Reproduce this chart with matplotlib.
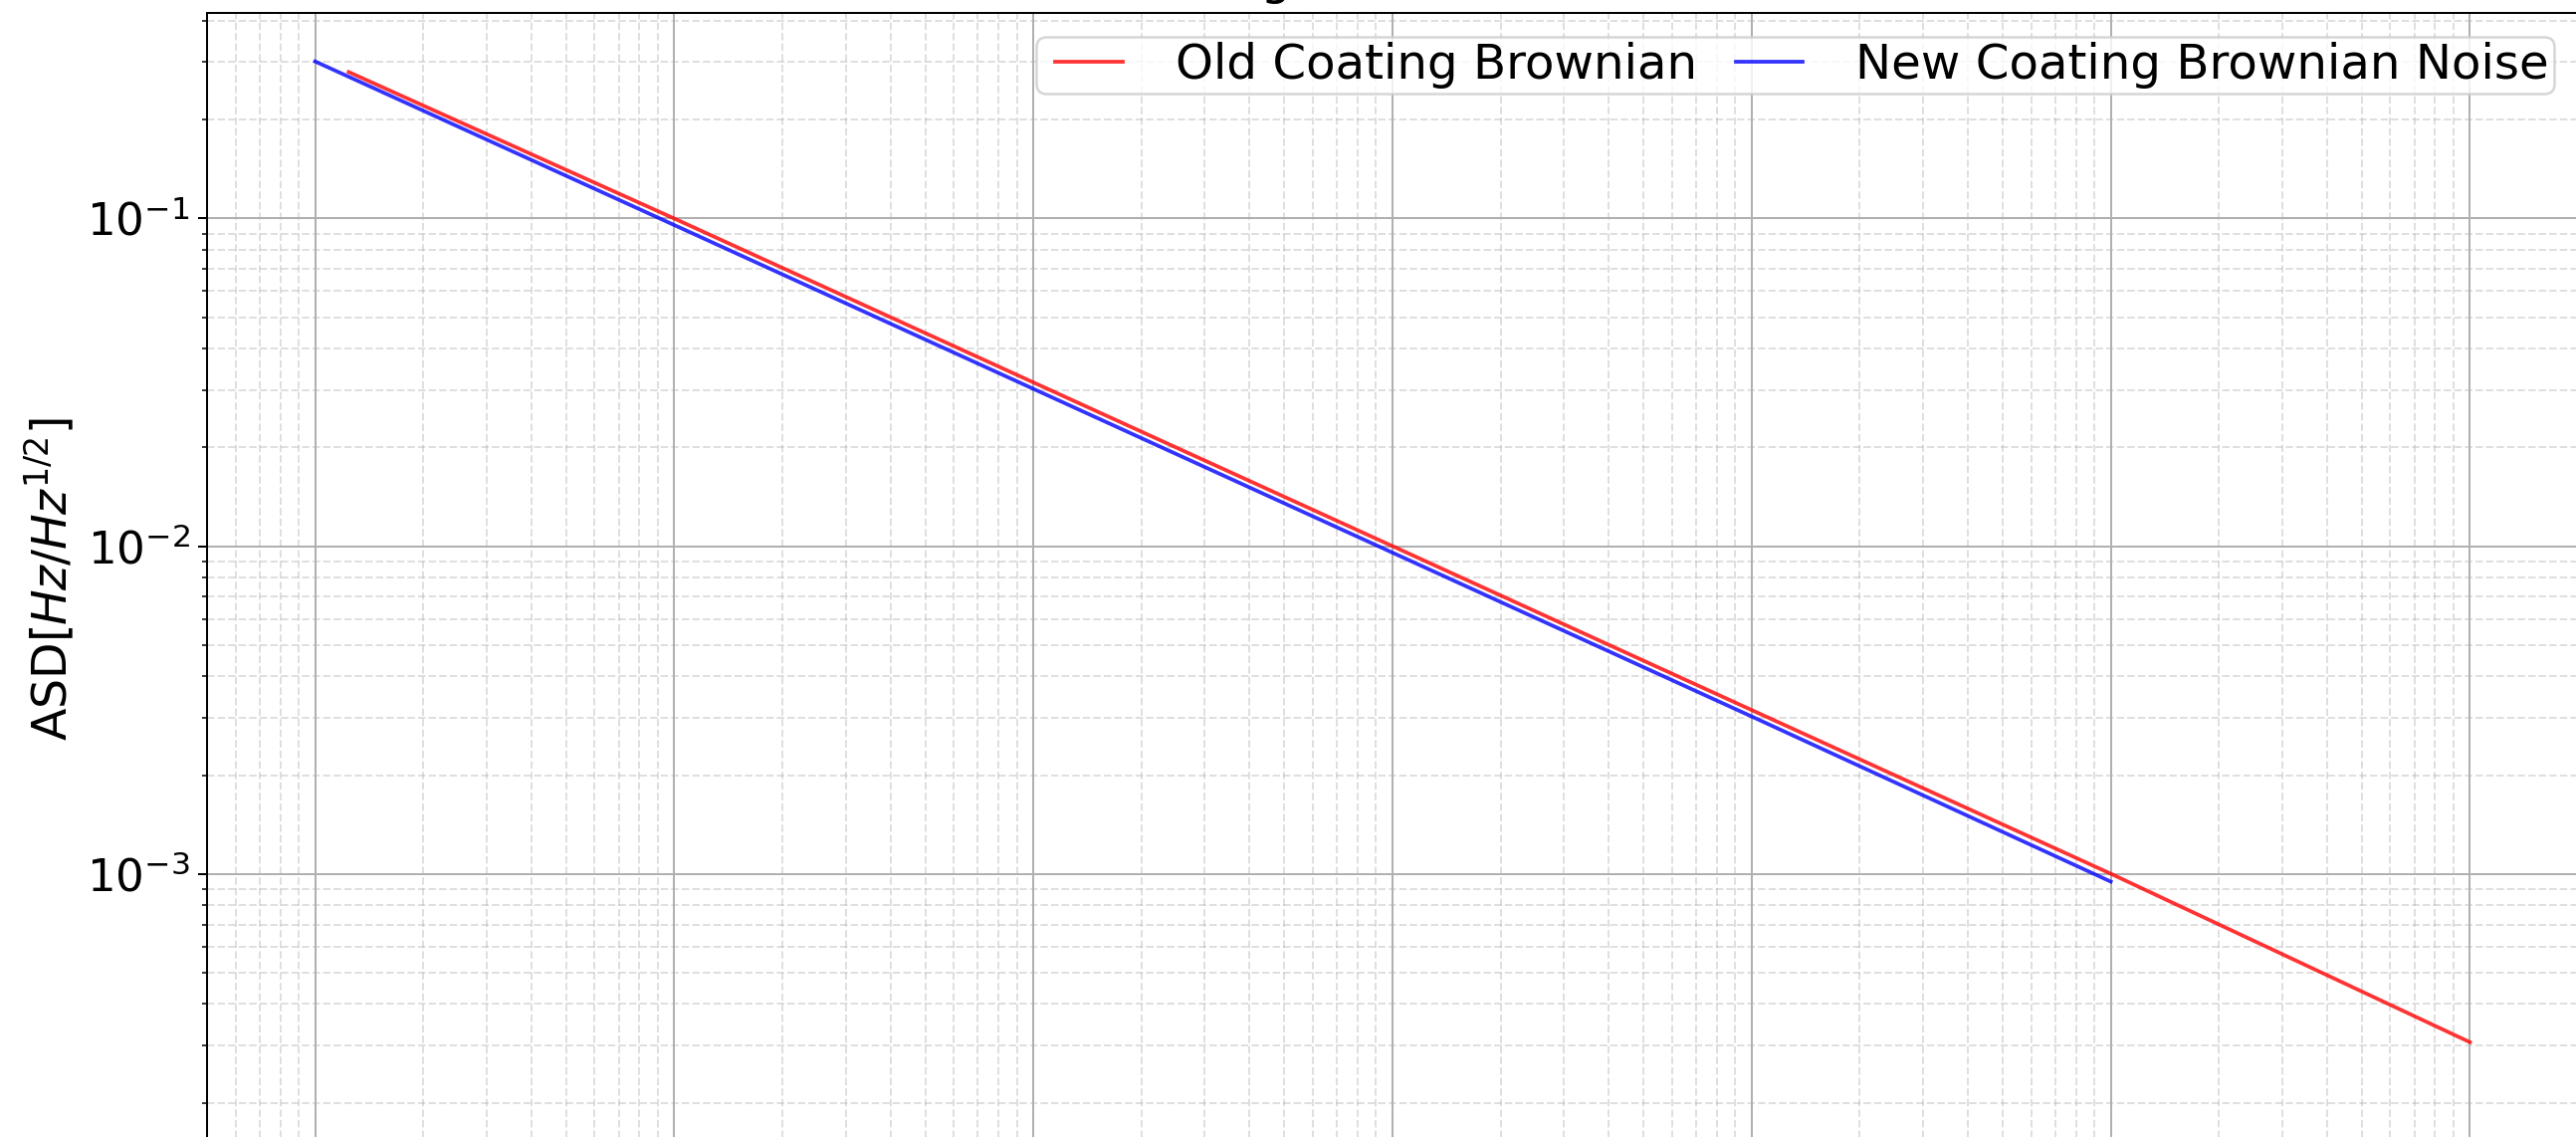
import matplotlib
matplotlib.use("Agg")
import matplotlib.pyplot as plt

# frequency [Hz] and ASD (straight lines on log-log)
freq_old = [1.24, 10, 100, 1e3, 1e4, 1e5, 1e6]
asd_old = [0.280, 0.1, 0.0316, 0.01, 0.00316, 0.001, 0.000306]

freq_new = [1, 10, 100, 1e3, 1e4, 1e5]
asd_new = [0.3016, 0.0955, 0.0302, 0.00955, 0.00302, 0.000946]

DPI = 180
fig = plt.figure(figsize=(2588 / DPI, 1142 / DPI), dpi=DPI)
# the saved picture is a tight crop of the axes area
ax = fig.add_axes([208 / 2588, 1 - 1150 / 1142, 2382 / 2588, 1137 / 1142])

ax.loglog(freq_old, asd_old, color="r", alpha=0.8, lw=1.5, label="Old Coating Brownian")
ax.loglog(freq_new, asd_new, color="b", alpha=0.8, lw=1.5, label="New Coating Brownian Noise")

ax.set_xlim(0.5, 2.0e6)
ax.set_ylim(10 ** -3.828, 10 ** -0.3725)

ax.grid(True, which="major", ls="-", color="#b0b0b0", lw=0.8)
ax.grid(True, which="minor", ls="--", color="#b0b0b0", lw=0.8, alpha=0.4)

ax.set_ylabel(r"ASD$[Hz/Hz^{1/2}]$", fontsize=19)
ax.set_title("Coating Brownian Noise", fontsize=19.3, pad=7.6)
ax.tick_params(axis="both", which="major", labelsize=18)
# x tick labels fall below the cropped picture
ax.tick_params(axis="x", which="both", labelbottom=False)

ax.legend(loc="upper right", ncol=2, fontsize=19.3, numpoints=2,
          borderpad=0.1, columnspacing=0.5)

fig.savefig("out.png", dpi=DPI)
